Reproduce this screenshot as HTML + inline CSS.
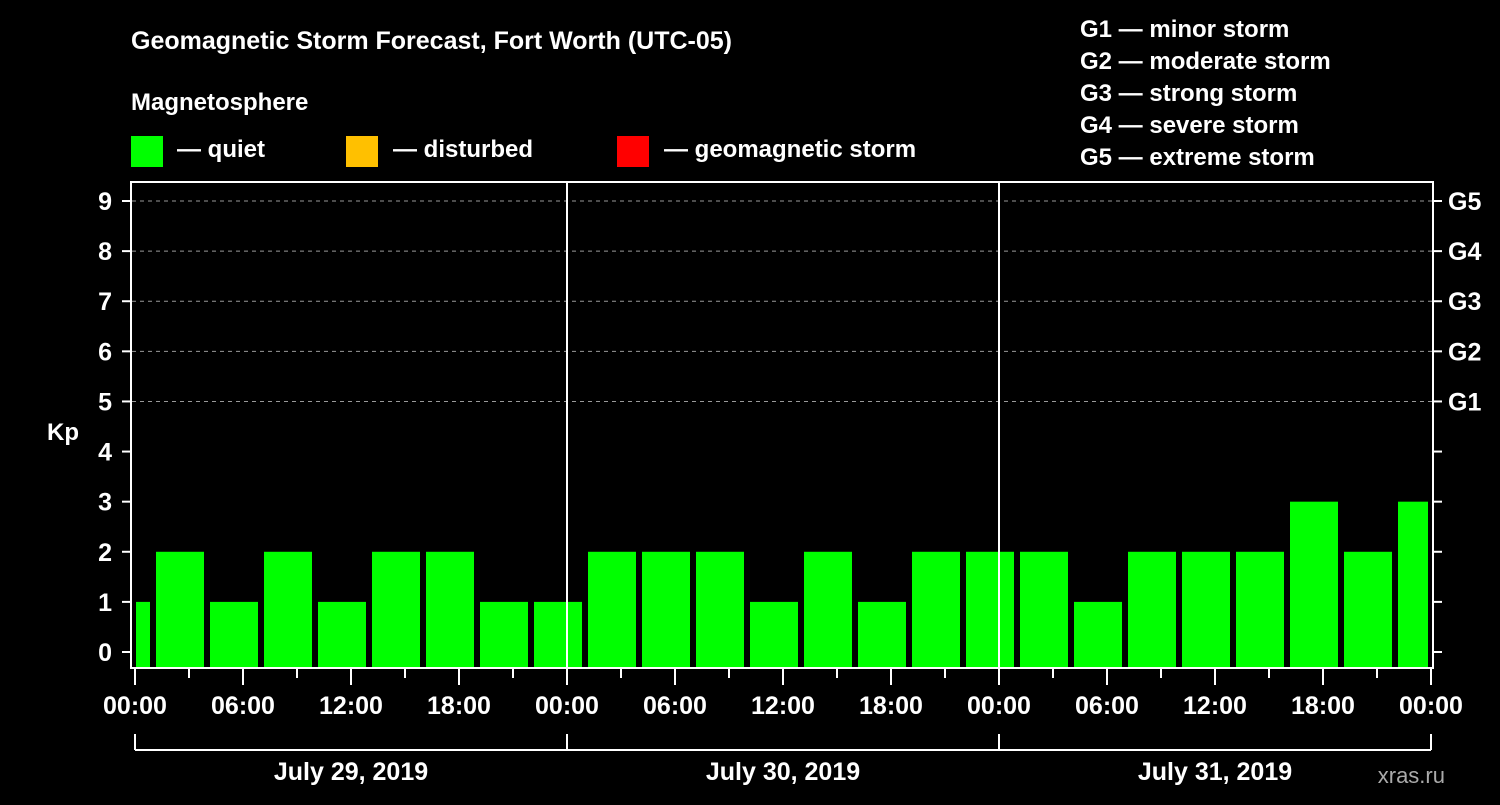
<!DOCTYPE html>
<html><head><meta charset="utf-8"><style>
body{margin:0;background:#000;width:1500px;height:800px;overflow:hidden;font-family:"Liberation Sans",sans-serif}
svg text{font-family:"Liberation Sans",sans-serif;font-weight:bold;fill:#fff}
</style></head><body>
<svg id="c" width="1500" height="800">
<text x="131" y="49" font-size="25">Geomagnetic Storm Forecast, Fort Worth (UTC-05)</text>
<text x="131" y="110" font-size="24">Magnetosphere</text>
<rect x="131" y="136" width="32" height="31" fill="#00ff00"/>
<text x="177" y="157" font-size="24">— quiet</text>
<rect x="346" y="136" width="32" height="31" fill="#ffc000"/>
<text x="393" y="157" font-size="24">— disturbed</text>
<rect x="617" y="136" width="32" height="31" fill="#ff0000"/>
<text x="664" y="157" font-size="24">— geomagnetic storm</text>
<g font-size="24">
<text x="1080" y="37">G1 — minor storm</text>
<text x="1080" y="69">G2 — moderate storm</text>
<text x="1080" y="101">G3 — strong storm</text>
<text x="1080" y="133">G4 — severe storm</text>
<text x="1080" y="165">G5 — extreme storm</text>
</g>
<text x="63" y="440" font-size="24" text-anchor="middle">Kp</text>
<text x="1445" y="783" font-size="22" fill="#aaa" style="fill:#aaa;font-weight:normal" text-anchor="end">xras.ru</text>
<defs><clipPath id="cp"><rect x="136" y="182" width="1292" height="486"/></clipPath></defs>
<g id="grid"></g><g id="bars" clip-path="url(#cp)"></g><g id="axes"></g>
</svg>
<script>
const values=[1,2,1,2,1,2,2,1,1, 2,2,2,1,2,1,2,2, 2,1,2,2,2,3,2,3];
const dayLabels=["July 29, 2019","July 30, 2019","July 31, 2019"];
const hourLabels=["00:00","06:00","12:00","18:00"];
const gLabels=["G1","G2","G3","G4","G5"];
const NS="http://www.w3.org/2000/svg";
const x=h=>135+h*18;
const y=v=>652-v*50.11;
function mk(tag,attrs,parent,text){const e=document.createElementNS(NS,tag);for(const k in attrs)e.setAttribute(k,attrs[k]);if(text!==undefined)e.textContent=text;document.getElementById(parent).appendChild(e);return e;}
for(let v=5;v<=9;v++){
 const l=mk('line',{x1:132,x2:1432,y1:y(v),y2:y(v),stroke:'#999','stroke-width':1,'stroke-dasharray':'4,4'},'grid');
 
 
}
values.forEach((v,k)=>{
 const h=3*k-0.5;
 const r=mk('rect',{x:x(h)-24,width:48,y:y(v),height:668-y(v),fill:v>=5?'#ff0000':(v>=4?'#ffc000':'#00ff00')},'bars');
 
 
});
const f=mk('rect',{x:131,y:182,width:1302,height:486,fill:'none',stroke:'#fff','stroke-width':2},'axes');


for(let d=1;d<3;d++){
 const l=mk('line',{x1:x(24*d),x2:x(24*d),y1:182,y2:668,stroke:'#fff','stroke-width':2},'axes');
 
 
}
for(let v=0;v<=9;v++){
 mk('line',{x1:122,x2:131,y1:y(v),y2:y(v),stroke:'#fff','stroke-width':2},'axes');
 mk('line',{x1:1433,x2:1442,y1:y(v),y2:y(v),stroke:'#fff','stroke-width':2},'axes');
 const t=mk('text',{x:112,y:y(v)+9,'font-size':25,'text-anchor':'end'},'axes',String(v));
 
 
 if(v>=5){
  const g=mk('text',{x:1448,y:y(v)+9,'font-size':25},'axes',gLabels[v-5]);
  
  
 }
}
for(let h=0;h<=72;h+=3){
 const major=h%6===0;
 mk('line',{x1:x(h),x2:x(h),y1:669,y2:major?685:678,stroke:'#fff','stroke-width':2},'axes');
 if(major){
  const t=mk('text',{x:x(h),y:714,'font-size':25,'text-anchor':'middle'},'axes',hourLabels[(h/6)%4]);
  
  
 }
}
mk('line',{x1:x(0),x2:x(72),y1:750,y2:750,stroke:'#fff','stroke-width':2},'axes');
for(let d=0;d<=3;d++) mk('line',{x1:x(24*d),x2:x(24*d),y1:734,y2:750,stroke:'#fff','stroke-width':2},'axes');
dayLabels.forEach((s,d)=>{
 const t=mk('text',{x:x(24*d+12),y:780,'font-size':25,'text-anchor':'middle'},'axes',s);
 
 
});
</script>
</body></html>
